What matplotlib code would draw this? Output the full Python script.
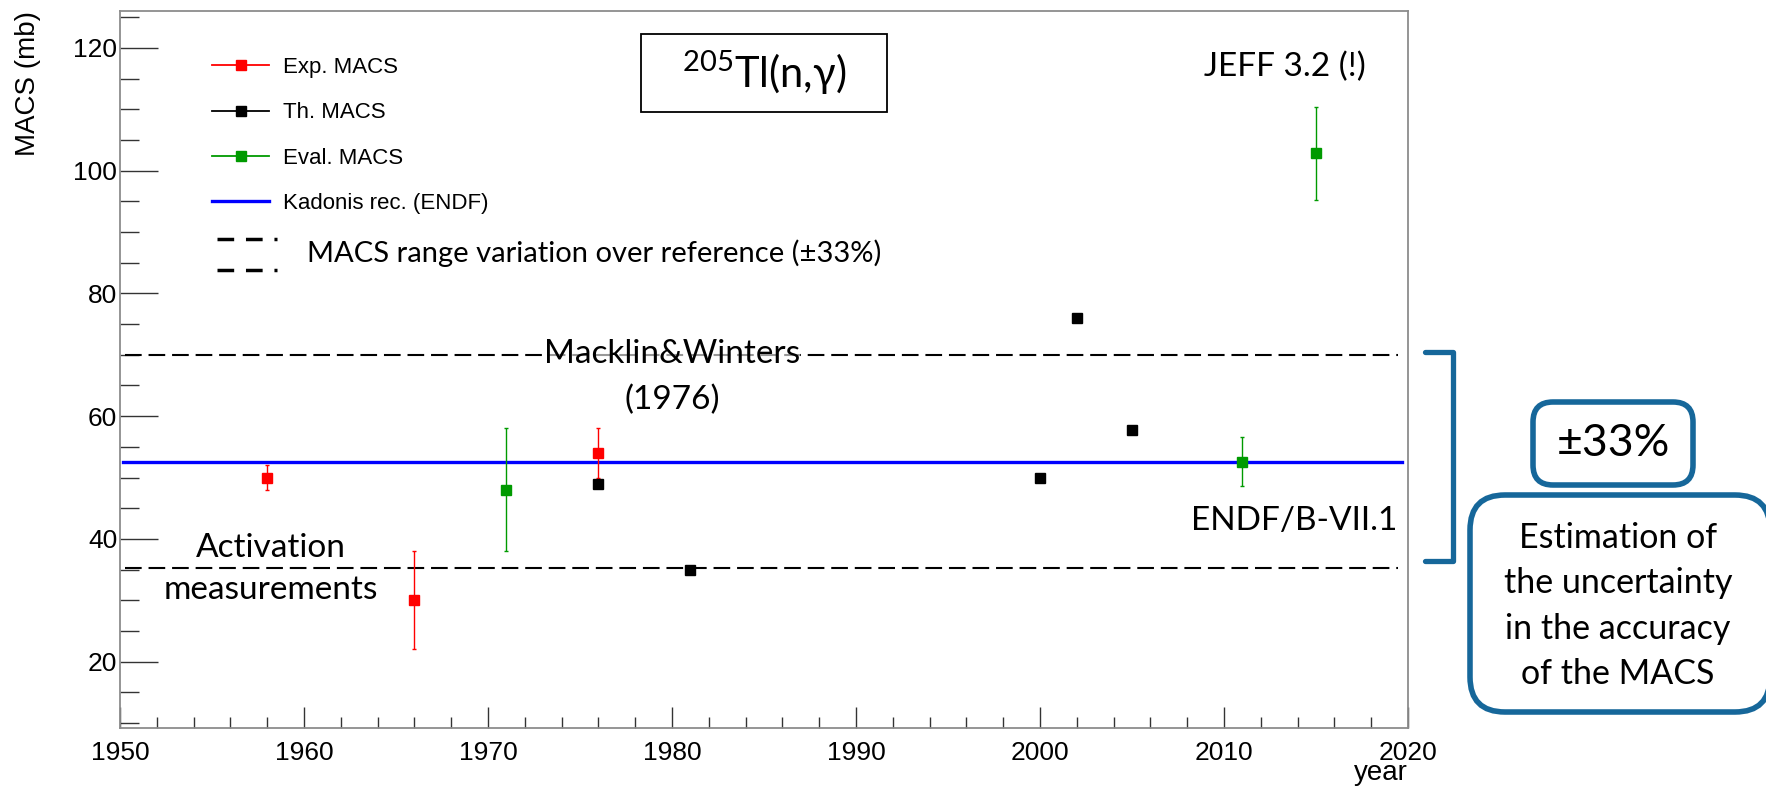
import numpy as np
import matplotlib.pyplot as plt
from matplotlib.lines import Line2D
from matplotlib.patches import FancyBboxPatch, Rectangle
from matplotlib.ticker import MultipleLocator

plt.rcParams['mathtext.fontset'] = 'custom'
plt.rcParams['mathtext.rm'] = 'Lato'
plt.rcParams['mathtext.default'] = 'regular'

# data
exp_years = [1958, 1966, 1976]
exp_macs = [50.0, 30.0, 54.0]
exp_err = [2.0, 8.0, 4.0]

th_years = [1976, 1981, 2000, 2002, 2005]
th_macs = [49.0, 35.0, 50.0, 76.0, 57.7]

eval_years = [1971, 2011, 2015]
eval_macs = [48.0, 52.6, 102.8]
eval_err = [10.0, 4.0, 7.6]

ref_macs = 52.6      # Kadonis rec. (ENDF)
range_frac = 0.33    # +-33 %

arial = 'Liberation Sans'
calib = 'Lato'
blue_box = '#16679a'

fig = plt.figure(figsize=(17.66, 7.88), dpi=100)
ax = fig.add_axes([120/1766, 1 - 728/788, 1288/1766, 717/788])

ax.set_xlim(1950, 2020)
ax.set_ylim(9.2, 126)

# reference and range lines
ax.axhline(ref_macs, xmin=0.002, xmax=0.995, color='#0000ff', lw=2.4, zorder=2)
for f in (1 + range_frac, 1 - range_frac):
    ln = ax.axhline(ref_macs * f, xmin=0.004, xmax=0.992, color='black', lw=1.5, zorder=2)
    ln.set_dashes((8, 3.3))

# data series
ax.errorbar(exp_years, exp_macs, yerr=exp_err, fmt='s', color='#ff0000', ms=7,
            elinewidth=1.0, capsize=1.5, capthick=1.0, zorder=4)
ax.plot(th_years, th_macs, 's', color='black', ms=7, zorder=4)
ax.errorbar(eval_years, eval_macs, yerr=eval_err, fmt='s', color='#009a00', ms=7,
            elinewidth=1.0, capsize=1.5, capthick=1.0, zorder=4)

# legend
handles = [
    Line2D([], [], color='#ff0000', marker='s', ms=7, lw=1.3),
    Line2D([], [], color='black', marker='s', ms=7, lw=1.3),
    Line2D([], [], color='#009a00', marker='s', ms=7, lw=1.3),
    Line2D([], [], color='#0000ff', lw=2.4),
]
labels = ['Exp. MACS', 'Th. MACS', 'Eval. MACS', 'Kadonis rec. (ENDF)']
ax.legend(handles, labels, loc='upper left', bbox_to_anchor=(0.0712, 0.936),
          frameon=False, prop={'family': arial, 'size': 16},
          handlelength=2.6, handletextpad=0.6, labelspacing=1.1, borderpad=0,
          borderaxespad=0)

for yy in (0.682, 0.639):
    l = Line2D([0.075, 0.1216], [yy, yy], transform=ax.transAxes, color='black', lw=2.5)
    l.set_dashes((4.8, 3.4))
    ax.add_line(l)
ax.text(0.1452, 0.6625, 'MACS range variation over reference (\u00b133%)',
        transform=ax.transAxes, va='center', ha='left', family=calib, fontsize=21)

# title box
ax.add_patch(Rectangle((0.4045, 0.859), 0.191, 0.109, transform=ax.transAxes,
                       fc='white', ec='black', lw=1.3, zorder=5))
ax.text(0.5, 0.9135, '$^{205}$Tl(n,\u03b3)', transform=ax.transAxes, ha='center', va='center',
        family=calib, fontsize=30, zorder=6)

# annotations
big = dict(family=calib, fontsize=24, color='black')
ax.text(1980, 70.2, 'Macklin&Winters', ha='center', va='center', zorder=5,
        bbox=dict(fc='white', ec='none', alpha=0.6, pad=0), **big)
ax.text(1980, 62.6, '(1976)', ha='center', va='center', **big)
ax.text(1958.2, 38.6, 'Activation', ha='center', va='center', **big)
ax.text(1958.2, 31.6, 'measurements', ha='center', va='center', **big)
ax.text(2013.3, 116.9, 'JEFF 3.2 (!)', ha='center', va='center', **big)
ax.text(2019.4, 43.0, 'ENDF/B-VII.1', ha='right', va='center', **big)

# axes styling (ROOT look)
for s in ax.spines.values():
    s.set_color('#8c8c8c')
    s.set_linewidth(1.3)
ax.xaxis.set_major_locator(MultipleLocator(10))
ax.xaxis.set_minor_locator(MultipleLocator(2))
ax.yaxis.set_major_locator(MultipleLocator(20))
ax.yaxis.set_minor_locator(MultipleLocator(5))
ax.tick_params(axis='x', which='major', direction='in', length=15, width=1, color='#333333',
               pad=9, labelsize=19)
ax.tick_params(axis='x', which='minor', direction='in', length=8, width=1, color='#333333')
ax.tick_params(axis='y', which='major', direction='in', length=27, width=1, color='#333333',
               pad=2, labelsize=19)
ax.tick_params(axis='y', which='minor', direction='in', length=14, width=1, color='#333333')
for lab in ax.get_xticklabels() + ax.get_yticklabels():
    lab.set_family(arial)

ax.set_ylabel('MACS (mb)', family=arial, fontsize=20)
ax.yaxis.set_label_coords(-0.0718, 1.0)
ax.yaxis.label.set_ha('right')
ax.yaxis.label.set_va('center')
ax.set_xlabel('year', family=arial, fontsize=20)
ax.xaxis.set_label_coords(1.0, -0.045)
ax.xaxis.label.set_ha('right')
ax.xaxis.label.set_va('top')

# right-hand side annotations (figure inches, dpi 100)
tr = fig.dpi_scale_trans
br = Line2D([14.25, 14.53, 14.53, 14.25], [7.88 - 3.52, 7.88 - 3.52, 7.88 - 5.61, 7.88 - 5.61],
            transform=tr, color=blue_box, lw=3.8, solid_joinstyle='round', solid_capstyle='round')
fig.add_artist(br)

b1 = FancyBboxPatch((15.33, 7.88 - 4.85), 1.60, 0.83, boxstyle='round,pad=0,rounding_size=0.2',
                    transform=tr, fc='white', ec=blue_box, lw=4)
fig.add_artist(b1)
fig.text(16.13, 7.88 - 4.43, '\u00b133%', transform=tr, ha='center', va='center',
         family=calib, fontsize=32)

b2 = FancyBboxPatch((14.70, 7.88 - 7.12), 3.0, 2.17, boxstyle='round,pad=0,rounding_size=0.35',
                    transform=tr, fc='white', ec=blue_box, lw=4)
fig.add_artist(b2)
fig.text(16.18, 7.88 - 6.06, 'Estimation of\nthe uncertainty\nin the accuracy\nof the MACS',
         transform=tr, ha='center', va='center', family=calib, fontsize=24.5, linespacing=1.52)

fig.savefig('out.png', dpi=100)
